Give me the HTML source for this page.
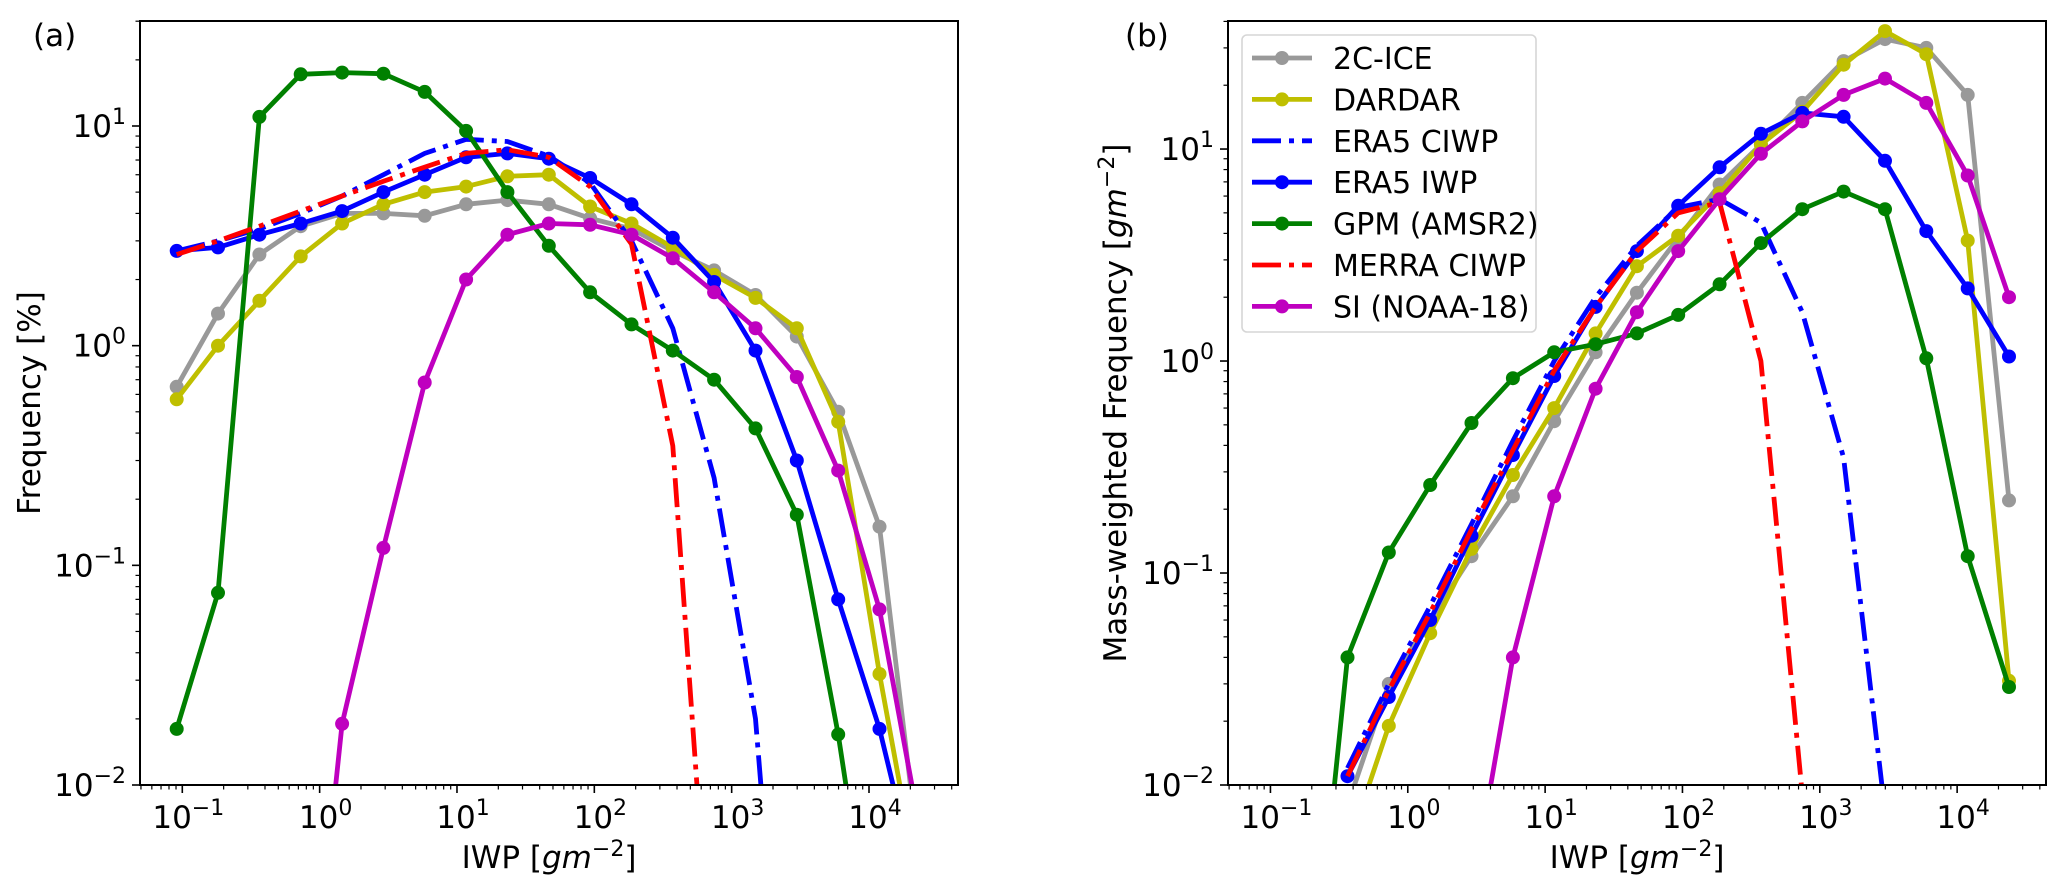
<!DOCTYPE html>
<html><head><meta charset="utf-8">
<style>
html,body{margin:0;padding:0;background:#fff;overflow:hidden;width:2066px;height:893px;}
svg{display:block;font-family:"DejaVu Sans","Liberation Sans",sans-serif;}
</style></head>
<body>
<svg id="fig" width="2066" height="893" viewBox="0 0 2066 893" xmlns="http://www.w3.org/2000/svg"></svg>
<script>
// ---- data ----
const xBase = 0.091; // bin k centre = xBase * 2^k
const binIndex = [0,1,2,3,4,5,6,7,8,9,10,11,12,13,14,15,16,17,18];
const seriesNames = ["2C-ICE","DARDAR","ERA5 CIWP","ERA5 IWP","GPM (AMSR2)","MERRA CIWP","SI (NOAA-18)"];
// panel (a) Frequency [%]
const freqIce    = [0.65,1.4,2.6,3.5,4.0,4.0,3.9,4.4,4.6,4.4,3.8,3.4,2.7,2.2,1.7,1.1,0.5,0.15,0.004];
const freqDardar = [0.57,1.0,1.6,2.55,3.6,4.4,5.0,5.3,5.9,6.0,4.3,3.6,2.8,2.1,1.65,1.2,0.45,0.032,0.003];
const freqEraC   = [2.7,3.0,3.4,4.0,4.8,6.0,7.5,8.7,8.5,7.3,5.5,3.0,1.2,0.25,0.02,0.0001,null,null,null];
const freqEraI   = [2.7,2.8,3.2,3.6,4.1,5.0,6.0,7.2,7.5,7.1,5.8,4.4,3.1,1.95,0.95,0.30,0.07,0.018,0.003];
const freqGpm    = [0.018,0.075,11,17.2,17.5,17.3,14.3,9.5,5.0,2.85,1.75,1.25,0.95,0.70,0.42,0.17,0.017,0.001,null];
const freqMerra  = [2.6,3.0,3.5,4.1,4.8,5.6,6.5,7.5,7.8,7.2,5.3,2.9,0.35,0.0008,null,null,null,null,null];
const freqSi     = [null,null,null,0.0003,0.019,0.12,0.68,2.0,3.2,3.6,3.55,3.2,2.5,1.75,1.2,0.72,0.27,0.063,0.006];
// panel (b) Mass-weighted Frequency
const mwIce    = [null,null,0.008,0.03,0.06,0.12,0.23,0.52,1.1,2.1,3.8,6.8,10.5,16.5,26,33,30,18,0.22];
const mwDardar = [null,null,0.005,0.019,0.052,0.13,0.29,0.6,1.35,2.8,3.9,6.2,10.5,15,25,36,28,3.7,0.031];
const mwEraC   = [null,null,0.012,0.03,0.07,0.17,0.42,1.0,2.0,3.5,5.3,5.8,4.5,1.7,0.35,0.0075,null,null,null];
const mwEraI   = [null,null,0.011,0.026,0.06,0.15,0.36,0.85,1.8,3.3,5.4,8.2,11.8,14.8,14.2,8.8,4.1,2.2,1.05];
const mwGpm    = [null,0.0005,0.04,0.125,0.26,0.51,0.83,1.1,1.2,1.35,1.65,2.3,3.6,5.2,6.3,5.2,1.03,0.12,0.029];
const mwMerra  = [null,null,0.011,0.028,0.065,0.16,0.38,0.9,1.8,3.3,5.0,5.6,1.0,0.009,null,null,null,null,null];
const mwSi     = [null,null,null,null,null,0.003,0.04,0.23,0.74,1.7,3.3,5.8,9.5,13.5,18,21.5,16.5,7.5,2.0];
const xTickExp = [-1,0,1,2,3,4];
const yTickExpA = [-2,-1,0,1];
const yTickExpB = [-2,-1,0,1];

const colors = ["#999999","#bfbf00","#0000ff","#0000ff","#008000","#ff0000","#bf00bf"];
const dashed = [false,false,true,false,false,true,false];
const markers= [true,true,false,true,true,false,true];

const NS="http://www.w3.org/2000/svg";
const svg=document.getElementById('fig');
function mk(tag,attrs,parent){const e=document.createElementNS(NS,tag);for(const k in attrs)e.setAttribute(k,attrs[k]);(parent||svg).appendChild(e);return e;}

function makeAxes(p){
  const xs = v => p.x0 + (Math.log10(v) - p.xmin)/(p.xmax-p.xmin)*(p.x1-p.x0);
  const ys = v => p.y1 - (Math.log10(v) - p.ymin)/(p.ymax-p.ymin)*(p.y1-p.y0);
  return {xs,ys};
}
const panels=[
 {id:'a',x0:140,x1:958,y0:21,y1:785,xmin:-1.308,xmax:4.648,ymin:-2,ymax:1.478,data:[freqIce,freqDardar,freqEraC,freqEraI,freqGpm,freqMerra,freqSi],ytick:yTickExpA,ylab:"Frequency [%]",ylabx:30,tag:"(a)",tagx:33},
 {id:'b',x0:1228,x1:2046,y0:21,y1:785,xmin:-1.309,xmax:4.647,ymin:-2,ymax:1.604,data:[mwIce,mwDardar,mwEraC,mwEraI,mwGpm,mwMerra,mwSi],ytick:yTickExpB,ylab:"Mass-weighted Frequency [gm",ylabx:1116,tag:"(b)",tagx:1125}
];
panels.forEach(p=>{
  const {xs,ys}=makeAxes(p);
  const g=mk('g',{});
  
  
  const clipId='clip'+p.id;
  const cp=mk('clipPath',{id:clipId},g);
  mk('rect',{x:p.x0,y:p.y0,width:p.x1-p.x0,height:p.y1-p.y0},cp);
  const plot=mk('g',{'clip-path':'url(#'+clipId+')'},g);
  p.data.forEach((arr,si)=>{
    const sg=mk('g',{},plot);
    
    
    let pts=[];
    binIndex.forEach(k=>{const v=arr[k];if(v!=null&&v>0)pts.push([xs(xBase*Math.pow(2,k)),ys(v)]);});
    const line=mk('polyline',{points:pts.map(q=>q[0].toFixed(1)+','+q[1].toFixed(1)).join(' '),fill:'none',stroke:colors[si],'stroke-width':4.8,'stroke-linejoin':'round'},sg);
    if(dashed[si]) line.setAttribute('stroke-dasharray','29 8 5 8');
    if(markers[si]) pts.forEach(q=>{const c=mk('circle',{cx:q[0].toFixed(1),cy:q[1].toFixed(1),r:7,fill:colors[si]},sg);});
  });
  const fr=mk('rect',{x:p.x0,y:p.y0,width:p.x1-p.x0,height:p.y1-p.y0,fill:'none',stroke:'#000','stroke-width':2},g);
  
  
  for(let e=-2;e<=5;e++){for(let m=1;m<10;m++){const v=m*Math.pow(10,e);const lx=Math.log10(v);if(lx<p.xmin||lx>p.xmax)continue;const x=xs(v);mk('line',{x1:x,x2:x,y1:p.y1,y2:p.y1+(m==1?8:4.5),stroke:'#000','stroke-width':m==1?1.6:1.2},g);}}
  xTickExp.forEach(e=>{const t=mk('text',{x:xs(Math.pow(10,e))+6,y:p.y1+43,'text-anchor':'middle','font-size':31},g);t.innerHTML='10<tspan dy="-13" font-size="22">'+(e<0?'\u2212'+(-e):e)+'</tspan>';});
  for(let e=-3;e<=2;e++){for(let m=1;m<10;m++){const v=m*Math.pow(10,e);const ly=Math.log10(v);if(ly<p.ymin-1e-6||ly>p.ymax)continue;const y=ys(v);mk('line',{x1:p.x0,x2:p.x0-(m==1?8:4.5),y1:y,y2:y,stroke:'#000','stroke-width':m==1?1.6:1.2},g);}}
  p.ytick.forEach(e=>{const t=mk('text',{x:p.x0-14,y:ys(Math.pow(10,e))+11,'text-anchor':'end','font-size':31},g);t.innerHTML='10<tspan dy="-13" font-size="22">'+(e<0?'\u2212'+(-e):e)+'</tspan>';});
  const xl=mk('text',{x:(p.x0+p.x1)/2,y:868,'text-anchor':'middle','font-size':31},g);
  
  xl.innerHTML='IWP [<tspan font-style="italic">gm</tspan><tspan dy="-12" font-size="22">\u22122</tspan><tspan dy="12">]</tspan>';
  const yl=mk('text',{x:0,y:0,'text-anchor':'middle','font-size':31,transform:'translate('+(p.ylabx+10)+','+((p.y0+p.y1)/2)+') rotate(-90)'},g);
  
  if(p.id==='a') yl.textContent=p.ylab;
  else yl.innerHTML='Mass-weighted Frequency [<tspan font-style="italic">gm</tspan><tspan dy="-12" font-size="22">\u22122</tspan><tspan dy="12">]</tspan>';
  const tg=mk('text',{x:p.tagx,y:46,'font-size':31},g);
  
  tg.textContent=p.tag;
});
const lg=mk('g',{});


mk('rect',{x:1242,y:35,width:294,height:297,rx:5,fill:'#fff','fill-opacity':0.8,stroke:'#d6d6d6','stroke-width':1.6},lg);
seriesNames.forEach((n,i)=>{
  const y=58+i*41.4;
  const eg=mk('g',{},lg);
  
  
  const l=mk('line',{x1:1252,x2:1312,y1:y,y2:y,stroke:colors[i],'stroke-width':4.8},eg);
  if(dashed[i]) l.setAttribute('stroke-dasharray','29 8 5 8');
  if(markers[i]) mk('circle',{cx:1282,cy:y,r:7,fill:colors[i]},eg);
  const t=mk('text',{x:1333,y:y+11,'font-size':30},eg);t.textContent=n;
});
</script>
</body></html>
